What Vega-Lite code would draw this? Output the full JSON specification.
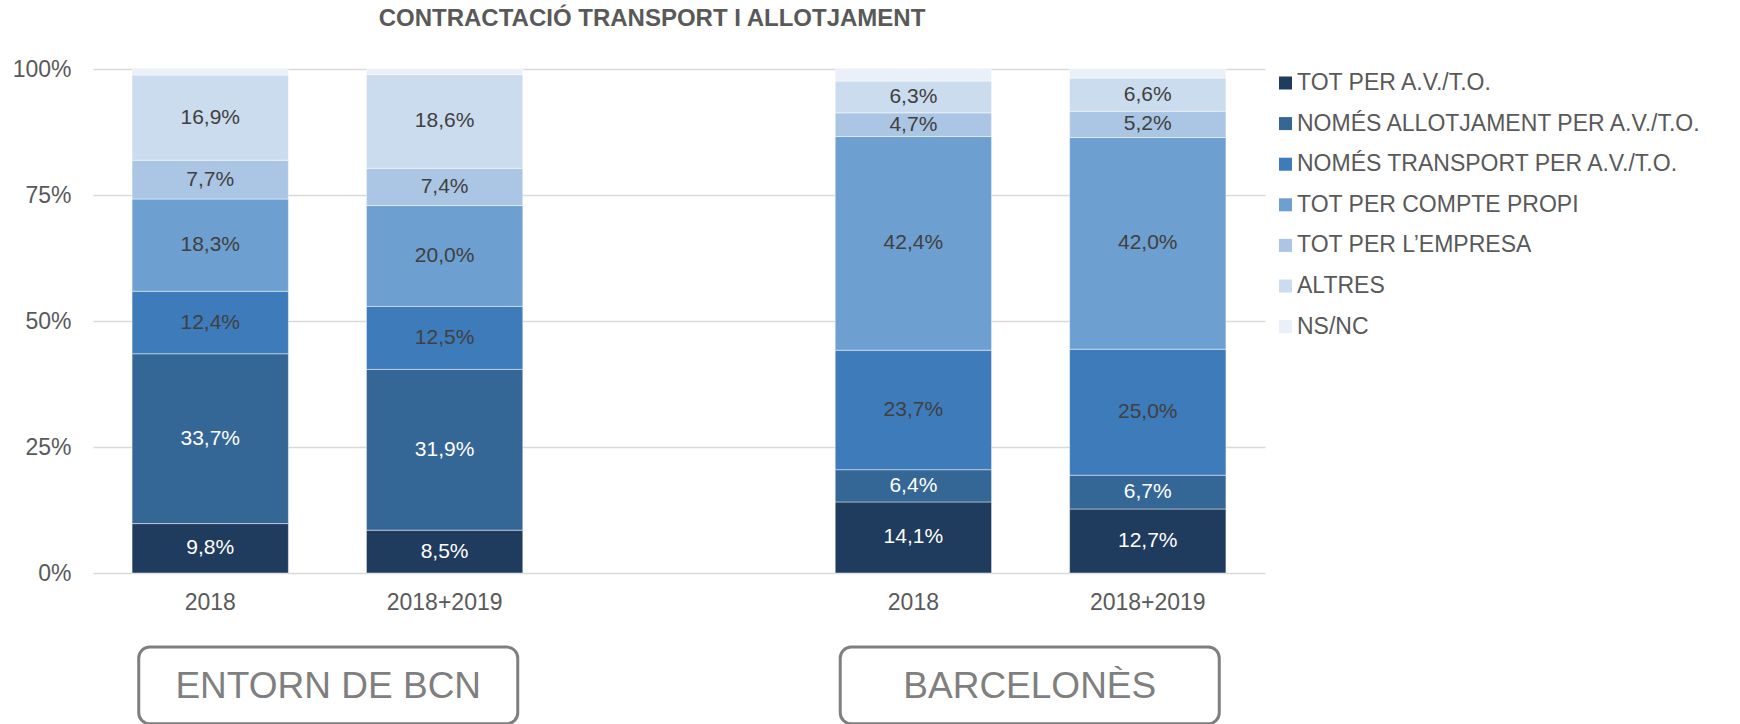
{
  "$schema": "https://vega.github.io/schema/vega-lite/v6.json",
  "autosize": {"type": "none"},
  "width": 1172,
  "height": 504,
  "padding": {"left": 93, "top": 69, "right": 475, "bottom": 151},
  "background": "white",
  "config": {"font": "Liberation Sans", "view": {"stroke": null}},
  "title": {
    "text": "CONTRACTACIÓ TRANSPORT I ALLOTJAMENT",
    "fontSize": 24,
    "fontWeight": "bold",
    "color": "#595959",
    "anchor": "middle",
    "dx": -27,
    "baseline": "bottom",
    "offset": 3
  },
  "resolve": {"scale": {"x": "independent", "y": "independent"}},
  "layer": [
    {
      "data": {
        "values": [
          {"zona": "ENTORN DE BCN", "periode": "2018", "c": "TOT PER A.V./T.O.", "v": 9.8},
          {"zona": "ENTORN DE BCN", "periode": "2018", "c": "NOMÉS ALLOTJAMENT PER A.V./T.O.", "v": 33.7},
          {"zona": "ENTORN DE BCN", "periode": "2018", "c": "NOMÉS TRANSPORT PER A.V./T.O.", "v": 12.4},
          {"zona": "ENTORN DE BCN", "periode": "2018", "c": "TOT PER COMPTE PROPI", "v": 18.3},
          {"zona": "ENTORN DE BCN", "periode": "2018", "c": "TOT PER L’EMPRESA", "v": 7.7},
          {"zona": "ENTORN DE BCN", "periode": "2018", "c": "ALTRES", "v": 16.9},
          {"zona": "ENTORN DE BCN", "periode": "2018", "c": "NS/NC", "v": 1.1},
          {"zona": "ENTORN DE BCN", "periode": "2018+2019", "c": "TOT PER A.V./T.O.", "v": 8.5},
          {"zona": "ENTORN DE BCN", "periode": "2018+2019", "c": "NOMÉS ALLOTJAMENT PER A.V./T.O.", "v": 31.9},
          {"zona": "ENTORN DE BCN", "periode": "2018+2019", "c": "NOMÉS TRANSPORT PER A.V./T.O.", "v": 12.5},
          {"zona": "ENTORN DE BCN", "periode": "2018+2019", "c": "TOT PER COMPTE PROPI", "v": 20.0},
          {"zona": "ENTORN DE BCN", "periode": "2018+2019", "c": "TOT PER L’EMPRESA", "v": 7.4},
          {"zona": "ENTORN DE BCN", "periode": "2018+2019", "c": "ALTRES", "v": 18.6},
          {"zona": "ENTORN DE BCN", "periode": "2018+2019", "c": "NS/NC", "v": 1.1},
          {"zona": "BARCELONÈS", "periode": "2018", "c": "TOT PER A.V./T.O.", "v": 14.1},
          {"zona": "BARCELONÈS", "periode": "2018", "c": "NOMÉS ALLOTJAMENT PER A.V./T.O.", "v": 6.4},
          {"zona": "BARCELONÈS", "periode": "2018", "c": "NOMÉS TRANSPORT PER A.V./T.O.", "v": 23.7},
          {"zona": "BARCELONÈS", "periode": "2018", "c": "TOT PER COMPTE PROPI", "v": 42.4},
          {"zona": "BARCELONÈS", "periode": "2018", "c": "TOT PER L’EMPRESA", "v": 4.7},
          {"zona": "BARCELONÈS", "periode": "2018", "c": "ALTRES", "v": 6.3},
          {"zona": "BARCELONÈS", "periode": "2018", "c": "NS/NC", "v": 2.3},
          {"zona": "BARCELONÈS", "periode": "2018+2019", "c": "TOT PER A.V./T.O.", "v": 12.7},
          {"zona": "BARCELONÈS", "periode": "2018+2019", "c": "NOMÉS ALLOTJAMENT PER A.V./T.O.", "v": 6.7},
          {"zona": "BARCELONÈS", "periode": "2018+2019", "c": "NOMÉS TRANSPORT PER A.V./T.O.", "v": 25.0},
          {"zona": "BARCELONÈS", "periode": "2018+2019", "c": "TOT PER COMPTE PROPI", "v": 42.0},
          {"zona": "BARCELONÈS", "periode": "2018+2019", "c": "TOT PER L’EMPRESA", "v": 5.2},
          {"zona": "BARCELONÈS", "periode": "2018+2019", "c": "ALTRES", "v": 6.6},
          {"zona": "BARCELONÈS", "periode": "2018+2019", "c": "NS/NC", "v": 1.8}
        ]
      },
      "transform": [
        {"calculate": "datum.zona + '|' + datum.periode", "as": "key"},
        {"calculate": "indexof(['TOT PER A.V./T.O.', 'NOMÉS ALLOTJAMENT PER A.V./T.O.', 'NOMÉS TRANSPORT PER A.V./T.O.', 'TOT PER COMPTE PROPI', 'TOT PER L’EMPRESA', 'ALTRES', 'NS/NC'], datum.c)", "as": "ord"},
        {"stack": "v", "groupby": ["key"], "sort": [{"field": "ord", "order": "ascending"}], "as": ["v0", "v1"]},
        {"calculate": "(datum.v0 + datum.v1) / 2", "as": "mid"},
        {"calculate": "replace(format(datum.v, '.1f'), '.', ',') + '%'", "as": "label"}
      ],
      "encoding": {
        "x": {
          "field": "key",
          "type": "nominal",
          "scale": {
            "domain": ["ENTORN DE BCN|2018", "ENTORN DE BCN|2018+2019", " ", "BARCELONÈS|2018", "BARCELONÈS|2018+2019"],
            "paddingInner": 0.333,
            "paddingOuter": 0.1667
          },
          "axis": {
            "title": null,
            "labelAngle": 0,
            "domain": false,
            "ticks": false,
            "labelFontSize": 23,
            "labelColor": "#595959",
            "labelPadding": 18.5,
            "labelExpr": "indexof(datum.label, '|') > 0 ? split(datum.label, '|')[1] : ''"
          }
        }
      },
      "layer": [
        {
          "mark": {"type": "bar", "stroke": "#ffffff", "strokeWidth": 0.75, "strokeOpacity": 0.6},
          "encoding": {
            "y": {
              "field": "v0",
              "type": "quantitative",
              "scale": {"domain": [0, 100], "nice": false},
              "axis": {
                "title": null,
                "values": [0, 25, 50, 75, 100],
                "labelExpr": "datum.value + '%'",
                "domain": false,
                "ticks": false,
                "grid": true,
                "gridColor": "#d9d9d9",
                "gridWidth": 1.5,
                "labelFontSize": 23,
                "labelColor": "#595959",
                "labelPadding": 22
              }
            },
            "y2": {"field": "v1"},
            "color": {
              "field": "c",
              "type": "nominal",
              "scale": {
                "domain": ["TOT PER A.V./T.O.", "NOMÉS ALLOTJAMENT PER A.V./T.O.", "NOMÉS TRANSPORT PER A.V./T.O.", "TOT PER COMPTE PROPI", "TOT PER L’EMPRESA", "ALTRES", "NS/NC"],
                "range": ["#1f3b5d", "#346696", "#3d7bba", "#6d9fd0", "#abc6e4", "#cbdcee", "#e9f0f8"]
              },
              "legend": {
                "title": null,
                "orient": "none",
                "legendX": 1181,
                "legendY": 2.5,
                "symbolType": "square",
                "symbolSize": 169,
                "symbolStrokeWidth": 0,
                "labelFontSize": 23,
                "labelColor": "#595959",
                "labelOffset": 0,
                "rowPadding": 16.6,
                "labelLimit": 600
              }
            }
          }
        },
        {
          "transform": [{"filter": "datum.c != 'NS/NC'"}],
          "mark": {"type": "text", "fontSize": 21, "baseline": "middle", "align": "center"},
          "encoding": {
            "y": {"field": "mid", "type": "quantitative", "scale": {"domain": [0, 100], "nice": false}},
            "text": {"field": "label"},
            "color": {
              "condition": {"test": "datum.ord <= 1", "value": "#ffffff"},
              "value": "#404040"
            }
          }
        }
      ]
    },
    {
      "data": {"values": [{"zona": "ENTORN DE BCN"}, {"zona": "BARCELONÈS"}]},
      "encoding": {
        "x": {
          "field": "zona",
          "type": "nominal",
          "scale": {"domain": ["ENTORN DE BCN", "BARCELONÈS"], "paddingInner": 0.4597, "paddingOuter": 0.0652},
          "axis": null
        }
      },
      "layer": [
        {
          "mark": {"type": "rect", "cornerRadius": 11, "fill": "#ffffff", "stroke": "#7f7f7f", "strokeWidth": 3},
          "encoding": {
            "y": {"datum": -14.7, "type": "quantitative", "scale": {"domain": [0, 100], "nice": false}, "axis": null},
            "y2": {"datum": -29.9}
          }
        },
        {
          "mark": {"type": "text", "fontSize": 37, "color": "#7f7f7f", "baseline": "middle", "align": "center"},
          "encoding": {
            "y": {"datum": -22.6, "type": "quantitative", "scale": {"domain": [0, 100], "nice": false}, "axis": null},
            "text": {"field": "zona"}
          }
        }
      ]
    }
  ]
}
